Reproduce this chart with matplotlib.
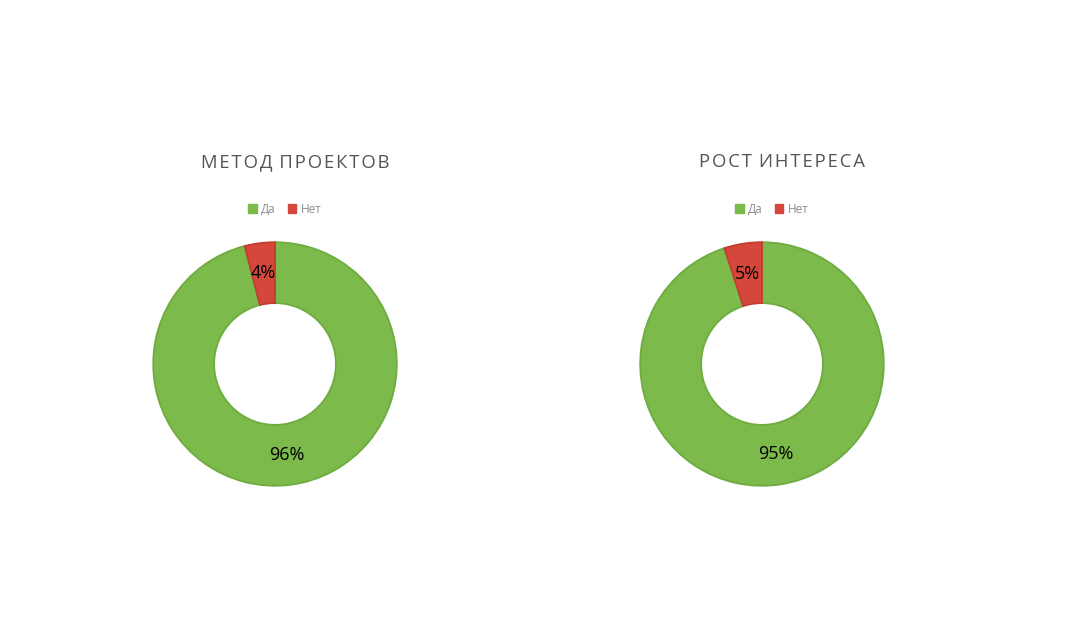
import matplotlib
matplotlib.use("Agg")
import matplotlib.pyplot as plt
from matplotlib.patches import Patch

titles = ["МЕТОД ПРОЕКТОВ", "РОСТ ИНТЕРЕСА"]
categories = ["Да", "Нет"]
values = [[96, 4], [95, 5]]
colors = ["#7cbb4b", "#d6473b"]
edge_colors = ["#6eab40", "#c23d31"]

plt.rcParams['font.family'] = ['Open Sans', 'DejaVu Sans']

W, H = 1083, 621
fig = plt.figure(figsize=(W / 100, H / 100), dpi=100)
fig.patch.set_facecolor("white")

centers = [275, 762]
cy = 364
R = 123

for i, (t, vals) in enumerate(zip(titles, values)):
    cx = centers[i]
    ax = fig.add_axes([(cx - R) / W, (H - cy - R) / H, 2 * R / W, 2 * R / H])
    wedges, texts, autotexts = ax.pie(
        vals, colors=colors, startangle=90, counterclock=False,
        autopct=lambda p: f"{p:.0f}%", pctdistance=0.75,
        wedgeprops=dict(width=0.5, linewidth=1.3),
        textprops=dict(fontsize=13, color="black"))
    for w, ec in zip(wedges, edge_colors):
        w.set_edgecolor(ec)
    ax.set_xlim(-1.01, 1.01)
    ax.set_ylim(-1.01, 1.01)
    ax.set_aspect("equal")
    ax.axis("off")
    spaced = "\u200a".join(t.replace(" ", "\u2009"))
    fig.text((cx + 20) / W, (H - 162) / H, spaced, ha="center", va="center",
             fontsize=13.3, color="#555555",
             family=['Open Sans', 'DejaVu Sans'])
    handles = [Patch(facecolor=c, edgecolor=c) for c in colors]
    fig.legend(handles, categories, loc="center",
               bbox_to_anchor=((cx + 10) / W, (H - 209) / H), ncol=2,
               frameon=False, fontsize=8.5, labelcolor="#8c8c8c",
               handlelength=0.7, handleheight=0.7, handletextpad=0.4,
               columnspacing=1.0)

fig.savefig("out.png", dpi=100, facecolor="white")
